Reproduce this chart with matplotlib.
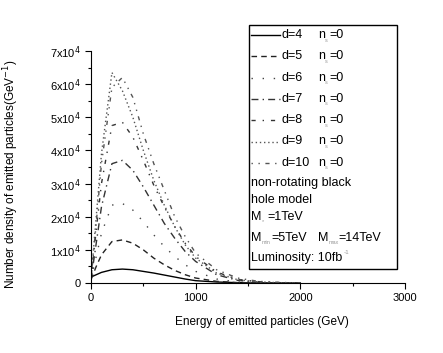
import numpy as np
import matplotlib
matplotlib.use("Agg")
import matplotlib.pyplot as plt
from matplotlib.lines import Line2D
from matplotlib.patches import Rectangle

plt.rcParams['font.family'] = ['Liberation Sans', 'DejaVu Sans']

# ------------------------
# Data (number density in units of 10^4 GeV^-1)
# ------------------------
energy = [0, 50, 100, 200, 300, 400, 500, 600, 700, 800, 900, 1000,
          1200, 1400, 1600, 1800, 2000]

d4 = [0.18, 0.25, 0.32, 0.40, 0.42, 0.40, 0.35, 0.30, 0.24, 0.18, 0.12, 0.07,
      0.03, 0.01, 0.0, 0.0, 0.0]
d5 = [0.10, 0.50, 0.85, 1.25, 1.30, 1.20, 1.00, 0.75, 0.55, 0.38, 0.25, 0.15,
      0.05, 0.01, 0.0, 0.0, 0.0]
d6 = [0.10, 0.80, 1.50, 2.35, 2.40, 2.20, 1.85, 1.45, 1.10, 0.80, 0.55, 0.35,
      0.12, 0.03, 0.01, 0.0, 0.0]
d7 = [0.10, 1.20, 2.30, 3.60, 3.70, 3.40, 2.90, 2.35, 1.80, 1.35, 0.95, 0.65,
      0.25, 0.08, 0.02, 0.0, 0.0]
d8 = [0.10, 1.60, 3.00, 4.75, 4.85, 4.40, 3.70, 2.95, 2.30, 1.70, 1.20, 0.80,
      0.33, 0.11, 0.04, 0.01, 0.0]
d9 = [0.10, 2.00, 3.90, 6.35, 5.80, 5.00, 4.00, 3.10, 2.35, 1.70, 1.15, 0.75,
      0.30, 0.10, 0.03, 0.01, 0.0]
d10 = [0.10, 1.80, 3.60, 5.90, 6.20, 5.60, 4.50, 3.60, 2.80, 2.00, 1.40, 0.90,
       0.40, 0.15, 0.05, 0.02, 0.0]

dims = [4, 5, 6, 7, 8, 9, 10]
series = [d4, d5, d6, d7, d8, d9, d10]
styles = ['-', (0, (4, 3)), (0, (1, 7)), (0, (5, 3, 1, 3)),
          (0, (3, 5, 1, 5)), (0, (1, 2)), (0, (1, 4, 1, 4, 3, 4))]
colors = ['black', '#222222', '#444444', '#333333', '#333333', '#555555', '#555555']

yticks = [0, 1, 2, 3, 4, 5, 6, 7]
ytick_labels = ['0'] + [f'{t}x10$^4$' for t in yticks[1:]]
xticks = [0, 1000, 2000, 3000]

# ------------------------
# Plot
# ------------------------
fig = plt.figure(figsize=(4.43, 3.53), dpi=100)
ax = fig.add_axes([91 / 443, 1 - 283 / 353, 314 / 443, 232 / 353])

for vals, ls, c in zip(series, styles, colors):
    ax.plot(energy, vals, color=c, linestyle=ls, linewidth=1.0)

ax.set_xlim(0, 3000)
ax.set_ylim(0, 7)
ax.set_xticks(xticks)
ax.set_xticks([500, 1500, 2500], minor=True)
ax.set_yticks(yticks)
ax.set_yticks(np.arange(0.5, 7, 1), minor=True)
ax.set_yticklabels(ytick_labels)
ax.tick_params(labelsize=8, direction='out', length=4, width=0.8)
ax.tick_params(which='minor', direction='out', length=2, width=0.8)
ax.spines['top'].set_visible(False)
ax.spines['right'].set_visible(False)

fig.text(262 / 443, 1 - 322 / 353, 'Energy of emitted particles (GeV)',
         ha='center', va='center', fontsize=8.5)
fig.text(11 / 443, 1 - 174 / 353,
         'Number density of emitted particles(GeV$^{-1}$)',
         ha='center', va='center', rotation=90, fontsize=8.5)

# legend box (figure coords)
W, H = 443.0, 353.0
fig.patches.append(Rectangle((249 / W, 1 - 269 / H), 148 / W, 244 / H,
                             transform=fig.transFigure, fill=False,
                             edgecolor='black', linewidth=1.0))


def ftext(x, y, s, size=9, **kw):
    fig.text(x / W, 1 - y / H, s, fontsize=size, va='center', ha='left', **kw)


def sub(x, y, s):
    fig.text(x / W, 1 - (y + 5) / H, s, fontsize=4, va='center', ha='left',
             color='#999999')


for i, (d, ls, c) in enumerate(zip(dims, styles, colors)):
    y = 35 + i * 21.3
    fig.add_artist(Line2D([251 / W, 280 / W], [1 - y / H, 1 - y / H],
                          transform=fig.transFigure, color=c,
                          linestyle=ls, linewidth=1.0))
    ftext(282, y, f'd={d}')
    ftext(318, y, 'n')
    sub(325, y, 's')
    ftext(329, y, '=0')

ftext(251, 183, 'non-rotating black')
ftext(251, 200, 'hole model')
ftext(251, 217, 'M')
sub(262, 217, '*')
ftext(267, 217, '=1TeV')
ftext(251, 238, 'M')
sub(262, 238, 'min')
ftext(271, 238, '=5TeV')
ftext(318, 238, 'M')
sub(329, 238, 'max')
ftext(338, 238, '=14TeV')
ftext(251, 258, 'Luminosity: 10fb')
fig.text(344 / W, 1 - 253 / H, '-1', fontsize=4.5, va='center', ha='left',
         color='#999999')

plt.savefig('out.png', dpi=100)
